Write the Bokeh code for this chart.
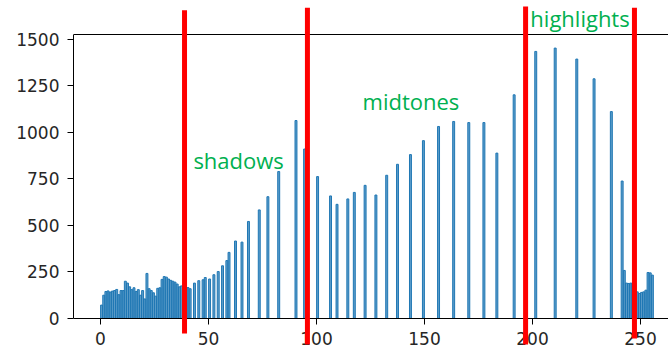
from bokeh.plotting import figure
from bokeh.models import Range1d, Arrow, Label, LinearAxis, FixedTicker
from bokeh.embed import file_html
from bokeh.resources import INLINE

# ---- data -------------------------------------------------------------
shadow_bins = list(range(40))
shadow_counts = [72, 125, 145, 148, 142, 147, 150, 156, 128, 150,
                 150, 200, 190, 170, 155, 165, 145, 155, 125, 150,
                 105, 242, 160, 150, 138, 120, 162, 165, 210, 225,
                 222, 212, 205, 200, 195, 185, 170, 175, 172, 168]
mid_bins = [40, 41, 43, 45, 47, 48, 50, 52, 54, 56, 58, 59, 62, 65, 68, 73, 77, 82, 90, 94,
            100, 106, 109, 114, 117, 122, 127, 132, 137, 143, 149, 156, 163, 170, 177, 183,
            191, 201, 210, 220, 228, 236, 241]
mid_counts = [166, 160, 190, 203, 208, 220, 212, 235, 252, 283, 311, 355, 416, 410, 521, 583, 654, 789, 1063, 910,
              762, 658, 613, 642, 677, 715, 663, 769, 828, 880, 955, 1031, 1058, 1052, 1052, 888,
              1201, 1434, 1452, 1393, 1287, 1111, 738]
tail_bins = list(range(242, 256))
tail_counts = [258, 190, 188, 190, 190, 190, 143, 134, 140, 143, 152, 247, 245, 233]

bins = shadow_bins + mid_bins + tail_bins
counts = shadow_counts + mid_counts + tail_counts

x_ticks = [0, 50, 100, 150, 200, 250]
y_ticks = [0, 250, 500, 750, 1000, 1250, 1500]
y_top = 1525          # top of the axes box

# hand-drawn red separators (data x, top, bottom)
red_x = [38.9, 95.8, 196.8, 247.2]
red_top = [1655, 1668, 1675, 1668]
red_bottom = [-81, -140, -140, -107]

zone_names = ["shadows", "midtones", "highlights"]
zone_x = [43, 121.3, 199]
zone_y = [850, 1167, 1612]

# ---- figure -----------------------------------------------------------
p = figure(width=668, height=349, output_backend="svg", toolbar_location=None,
           x_range=Range1d(-12.5, 262.96), y_range=Range1d(-166.5, 1686),
           min_border_left=73, min_border_right=0, min_border_top=4, min_border_bottom=0)
p.outline_line_color = None
p.xgrid.grid_line_color = None
p.ygrid.grid_line_color = None
p.background_fill_color = "white"
p.border_fill_color = "white"

p.vbar(x=[b + 0.5 for b in bins], top=counts, width=0.9, bottom=0,
       fill_color="#1f77b4", fill_alpha=0.72, line_color="#1f77b4", line_width=1)

for ax, ticks in ((p.xaxis[0], x_ticks), (p.yaxis[0], y_ticks)):
    ax.ticker = FixedTicker(ticks=ticks)
    ax.axis_line_color = "black"
    ax.axis_line_width = 1
    ax.major_tick_line_color = "black"
    ax.major_tick_out = 6
    ax.major_tick_in = 0
    ax.minor_tick_line_color = None
    ax.major_label_text_font = "DejaVu Sans"
    ax.major_label_text_font_size = "17px"
    ax.major_label_text_color = "#262626"
p.yaxis[0].major_label_standoff = 8
p.yaxis[0].bounds = (0, y_top)
p.xaxis[0].major_label_standoff = 8
p.xaxis[0].fixed_location = 0

top_axis = LinearAxis(ticker=FixedTicker(ticks=[]), major_label_text_font_size="0px",
                      axis_line_color="black", major_tick_out=0, major_tick_in=0,
                      minor_tick_out=0, minor_tick_in=0, major_label_standoff=0,
                      fixed_location=y_top)
p.add_layout(top_axis, "above")

for x, t, b in zip(red_x, red_top, red_bottom):
    p.add_layout(Arrow(end=None, x_start=x, y_start=b, x_end=x, y_end=t,
                       line_color="#ff0000", line_width=5))

for name, x, y in zip(zone_names, zone_x, zone_y):
    p.add_layout(Label(x=x, y=y, text=name, text_color="#00b050", text_font="Open Sans",
                       text_font_size="22px", text_align="left", text_baseline="alphabetic"))

open("out.html", "w").write(file_html(p, INLINE))
